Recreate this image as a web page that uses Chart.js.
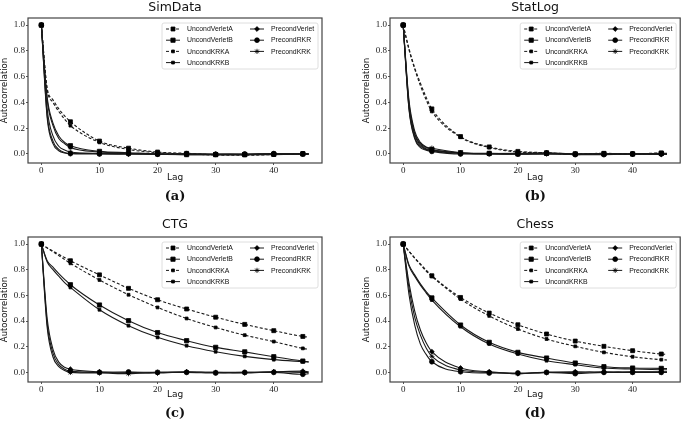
<!DOCTYPE html>
<html>
<head>
<meta charset="utf-8">
<script src="https://cdn.jsdelivr.net/npm/chart.js@4.4.0/dist/chart.umd.min.js"></script>
<style>
  body { margin: 0; background: #fff; }
  #fig { position: relative; width: 685px; height: 424px; overflow: hidden; }
  .panel { position: absolute; }
</style>
</head>
<body>
<div id="fig">
  <div class="panel" style="left:0;top:0"><canvas id="simChart" width="342" height="212"></canvas></div>
  <div class="panel" style="left:342px;top:0"><canvas id="statChart" width="343" height="212"></canvas></div>
  <div class="panel" style="left:0;top:212px"><canvas id="ctgChart" width="342" height="212"></canvas></div>
  <div class="panel" style="left:342px;top:212px"><canvas id="chessChart" width="343" height="212"></canvas></div>
</div>
<script>
const lags = [0, 1, 2, 3, 4, 5, 10, 15, 20, 25, 30, 35, 40, 45, 46];
const xTicks = [0, 10, 20, 30, 40];
const yTicks = [0.0, 0.2, 0.4, 0.6, 0.8, 1.0];
const seriesNames = ['UncondVerletA', 'UncondVerletB', 'UncondKRKA', 'UncondKRKB',
  'PrecondVerlet', 'PrecondRKR', 'PrecondKRK'];

// (a) SimData
const simUncondVerletA = [1.0, 0.51, 0.42, 0.35, 0.295, 0.25, 0.10, 0.045, 0.015, 0.005, -0.005, -0.005, 0.0, 0.003, 0.0];
const simUncondVerletB = [1.0, 0.44, 0.24, 0.14, 0.09, 0.064, 0.02, 0.01, 0.0, -0.005, -0.005, -0.005, -0.003, 0.0, 0.0];
const simUncondKRKA = [1.0, 0.50, 0.40, 0.33, 0.27, 0.22, 0.09, 0.035, 0.01, 0.0, -0.008, -0.01, -0.005, 0.0, 0.0];
const simUncondKRKB = [1.0, 0.42, 0.22, 0.12, 0.08, 0.05, 0.015, 0.005, -0.002, -0.005, -0.005, -0.005, -0.005, 0.0, 0.0];
const simPrecondVerlet = [1.0, 0.30, 0.10, 0.035, 0.012, 0.005, 0.005, 0.0, 0.0, 0.0, -0.003, -0.003, 0.0, 0.002, 0.0];
const simPrecondRKR = [1.0, 0.28, 0.08, 0.025, 0.008, 0.003, 0.0, 0.002, -0.002, 0.002, -0.002, 0.0, 0.003, 0.0, 0.0];
const simPrecondKRK = [1.0, 0.35, 0.14, 0.06, 0.03, 0.015, 0.003, 0.0, 0.0, 0.0, 0.0, -0.003, 0.0, 0.0, 0.0];

// (b) StatLog
const statUncondVerletA = [1.0, 0.82, 0.67, 0.55, 0.44, 0.35, 0.135, 0.055, 0.02, 0.01, 0.0, 0.005, 0.0, 0.008, 0.005];
const statUncondVerletB = [1.0, 0.40, 0.16, 0.08, 0.05, 0.035, 0.01, 0.005, 0.0, 0.005, 0.0, 0.0, 0.0, 0.005, 0.0];
const statUncondKRKA = [1.0, 0.81, 0.66, 0.53, 0.42, 0.33, 0.13, 0.05, 0.015, 0.008, -0.005, 0.0, 0.0, 0.0, 0.0];
const statUncondKRKB = [1.0, 0.38, 0.15, 0.07, 0.04, 0.03, 0.008, 0.003, 0.0, 0.0, 0.0, 0.0, 0.0, 0.0, 0.0];
const statPrecondVerlet = [1.0, 0.36, 0.13, 0.06, 0.035, 0.025, 0.005, 0.003, 0.005, 0.01, 0.0, 0.0, 0.0, -0.003, 0.0];
const statPrecondRKR = [1.0, 0.35, 0.12, 0.05, 0.03, 0.02, 0.0, 0.002, 0.0, 0.005, -0.005, -0.005, 0.0, 0.0, 0.0];
const statPrecondKRK = [1.0, 0.42, 0.18, 0.09, 0.055, 0.045, 0.01, 0.0, 0.0, 0.0, 0.0, 0.003, 0.0, 0.0, 0.0];

// (c) CTG
const ctgUncondVerletA = [1.0, 0.97, 0.945, 0.92, 0.895, 0.87, 0.76, 0.655, 0.566, 0.494, 0.43, 0.374, 0.325, 0.28, 0.275];
const ctgUncondVerletB = [1.0, 0.87, 0.82, 0.77, 0.725, 0.683, 0.525, 0.403, 0.31, 0.247, 0.195, 0.16, 0.122, 0.088, 0.083];
const ctgUncondKRKA = [1.0, 0.97, 0.94, 0.91, 0.88, 0.85, 0.72, 0.605, 0.506, 0.42, 0.35, 0.29, 0.24, 0.187, 0.18];
const ctgUncondKRKB = [1.0, 0.86, 0.80, 0.75, 0.70, 0.662, 0.488, 0.364, 0.273, 0.208, 0.161, 0.125, 0.099, 0.083, 0.08];
const ctgPrecondVerlet = [1.0, 0.42, 0.18, 0.08, 0.04, 0.025, 0.005, 0.0, -0.005, 0.005, 0.0, 0.0, 0.005, 0.01, 0.005];
const ctgPrecondRKR = [1.0, 0.38, 0.15, 0.06, 0.025, 0.01, 0.0, 0.003, 0.0, 0.0, -0.005, 0.0, 0.0, -0.015, -0.01];
const ctgPrecondKRK = [1.0, 0.35, 0.12, 0.045, 0.015, 0.0, -0.005, -0.01, 0.0, 0.003, 0.0, -0.005, 0.005, 0.0, 0.0];

// (d) Chess
const chessUncondVerletA = [1.0, 0.945, 0.893, 0.845, 0.798, 0.753, 0.584, 0.462, 0.371, 0.299, 0.244, 0.203, 0.169, 0.143, 0.14];
const chessUncondVerletB = [1.0, 0.84, 0.76, 0.69, 0.63, 0.58, 0.369, 0.234, 0.156, 0.112, 0.073, 0.044, 0.034, 0.031, 0.03];
const chessUncondKRKA = [1.0, 0.944, 0.89, 0.84, 0.79, 0.748, 0.571, 0.44, 0.338, 0.26, 0.203, 0.156, 0.122, 0.099, 0.097];
const chessUncondKRKB = [1.0, 0.83, 0.75, 0.68, 0.62, 0.564, 0.356, 0.221, 0.143, 0.091, 0.06, 0.034, 0.026, 0.021, 0.02];
const chessPrecondVerlet = [1.0, 0.70, 0.48, 0.33, 0.23, 0.161, 0.034, 0.005, -0.01, 0.0, 0.005, 0.0, 0.005, 0.005, 0.005];
const chessPrecondRKR = [1.0, 0.61, 0.37, 0.22, 0.14, 0.083, 0.005, -0.005, -0.005, 0.0, -0.01, 0.0, 0.0, 0.0, 0.0];
const chessPrecondKRK = [1.0, 0.66, 0.43, 0.29, 0.19, 0.125, 0.018, 0.0, -0.01, 0.0, 0.0, 0.005, 0.0, 0.0, 0.0];

// line / marker look per series (same order as seriesNames)
const seriesStyles = [
  { dash: [3, 2], point: 'rect', r: 2.8 },
  { dash: [], point: 'rect', r: 3.0 },
  { dash: [3, 2], point: 'rect', r: 2.0 },
  { dash: [], point: 'rect', r: 2.0 },
  { dash: [], point: 'rectRot', r: 2.4 },
  { dash: [], point: 'circle', r: 2.4 },
  { dash: [], point: 'star', r: 2.6 }
];

const SANS = 'DejaVu Sans, sans-serif';
const SERIF = 'Liberation Serif, serif';

function buildDatasets(values) {
  return seriesNames.map((name, i) => ({
    label: name,
    data: lags.map((x, j) => ({ x: x, y: values[i][j] })),
    borderColor: '#1a1a1a',
    backgroundColor: '#000',
    borderWidth: 1.1,
    borderDash: seriesStyles[i].dash,
    pointStyle: seriesStyles[i].point,
    pointRadius: c => (c.raw && c.raw.x % 5 === 0 ? seriesStyles[i].r : 0),
    pointBorderWidth: 0.8,
    pointBackgroundColor: '#000',
    pointBorderColor: '#000',
    cubicInterpolationMode: 'monotone'
  }));
}

// box round the plot area
const frameBox = {
  id: 'frameBox',
  afterDraw(chart) {
    const { ctx, chartArea: a } = chart;
    ctx.save();
    ctx.strokeStyle = '#444';
    ctx.lineWidth = 1.2;
    ctx.strokeRect(a.left, a.top, a.right - a.left, a.bottom - a.top);
    ctx.restore();
  }
};

// two-column legend drawn inside the plot, top right
const insideLegend = {
  id: 'insideLegend',
  afterDraw(chart) {
    const { ctx, chartArea: a } = chart;
    const w = 156, h = 46;
    const x0 = a.right - 4 - w, y0 = a.top + 5;
    ctx.save();
    ctx.fillStyle = 'rgba(255,255,255,0.85)';
    ctx.strokeStyle = '#d6d6d6';
    ctx.lineWidth = 0.8;
    ctx.beginPath();
    ctx.roundRect(x0, y0, w, h, 2);
    ctx.fill();
    ctx.stroke();
    chart.data.datasets.forEach((ds, i) => {
      const col = i < 4 ? 0 : 1;
      const row = i < 4 ? i : i - 4;
      const sx = x0 + (col ? 88 : 4);
      const ty = y0 + 6 + row * 11.2;
      ctx.strokeStyle = '#1a1a1a';
      ctx.lineWidth = 1;
      ctx.setLineDash(seriesStyles[i].dash);
      ctx.beginPath();
      ctx.moveTo(sx, ty);
      ctx.lineTo(sx + 14, ty);
      ctx.stroke();
      ctx.setLineDash([]);
      ctx.fillStyle = '#000';
      ctx.strokeStyle = '#000';
      ctx.lineWidth = 0.8;
      Chart.helpers.drawPoint(ctx, {
        pointStyle: seriesStyles[i].point,
        radius: seriesStyles[i].r,
        rotation: 0,
        borderWidth: 0.8
      }, sx + 7, ty);
      // narrow-ish sans: a slightly condensed 8px face
      ctx.save();
      ctx.translate(sx + 21, ty);
      ctx.scale(0.86, 1);
      ctx.fillStyle = '#111';
      ctx.font = '8px Liberation Sans, Arial, sans-serif';
      ctx.textBaseline = 'middle';
      ctx.textAlign = 'left';
      ctx.fillText(ds.label, 0, 0);
      ctx.restore();
    });
    ctx.restore();
  }
};

function makePanel(id, title, caption, values, lay) {
  const canvas = document.getElementById(id);
  return new Chart(canvas, {
    type: 'line',
    data: { datasets: buildDatasets(values) },
    plugins: [frameBox, insideLegend],
    options: {
      responsive: false,
      animation: false,
      events: [],
      layout: { padding: { left: lay.padLeft, right: lay.padRight, top: 0, bottom: 0 } },
      plugins: {
        legend: { display: false },
        tooltip: { enabled: false },
        title: {
          display: true,
          fullSize: false,
          text: title,
          color: '#111',
          font: { family: SANS, size: 12.5, weight: 'normal', lineHeight: 1.2 },
          padding: { top: lay.titleTop, bottom: lay.titleBottom }
        },
        subtitle: {
          display: true,
          fullSize: false,
          position: 'bottom',
          text: caption,
          color: '#111',
          font: { family: 'DejaVu Serif, serif', size: 13, weight: 'bold', lineHeight: 1 },
          padding: { top: 0, bottom: lay.capBottom }
        }
      },
      scales: {
        x: {
          type: 'linear',
          min: -2.3,
          max: 48.3,
          afterBuildTicks: s => { s.ticks = xTicks.map(v => ({ value: v })); },
          afterFit: s => { s.height = lay.xAxisH; },
          grid: { drawOnChartArea: false, drawTicks: true, tickLength: 2, color: '#555' },
          border: { display: false },
          ticks: {
            color: '#222',
            font: { family: SERIF, size: 9, lineHeight: 1 },
            padding: 1,
            maxRotation: 0,
            autoSkip: false,
            callback: v => String(v)
          },
          title: {
            display: true,
            text: 'Lag',
            color: '#111',
            font: { family: SANS, size: 9, lineHeight: 1.2 },
            padding: { top: 0, bottom: lay.lagBottom }
          }
        },
        y: {
          type: 'linear',
          min: lay.yMin,
          max: 1.055,
          afterBuildTicks: s => { s.ticks = yTicks.map(v => ({ value: v })); },
          afterFit: s => { s.width = 28; },
          grid: { drawOnChartArea: false, drawTicks: true, tickLength: 2, color: '#555' },
          border: { display: false },
          ticks: {
            color: '#222',
            font: { family: SERIF, size: 9, lineHeight: 1 },
            padding: 1,
            callback: v => v.toFixed(1)
          },
          title: {
            display: true,
            text: 'Autocorrelation',
            color: '#111',
            font: { family: SANS, size: 8.5, lineHeight: 1 },
            padding: { top: 0.75, bottom: 0 }
          }
        }
      }
    }
  });
}

const topLeft = { padLeft: 0, padRight: 20, titleTop: 0, titleBottom: 3, capBottom: 8.5, xAxisH: 27.5, lagBottom: 7.6, yMin: -0.07 };
const topRight = { padLeft: 20, padRight: 1, titleTop: 0, titleBottom: 3, capBottom: 8.5, xAxisH: 27.5, lagBottom: 7.6, yMin: -0.07 };
const botLeft = { padLeft: 0, padRight: 20, titleTop: 5.5, titleBottom: 4.5, capBottom: 3.5, xAxisH: 25.5, lagBottom: 7.1, yMin: -0.075 };
const botRight = { padLeft: 20, padRight: 1, titleTop: 5.5, titleBottom: 4.5, capBottom: 3.5, xAxisH: 25.5, lagBottom: 7.1, yMin: -0.075 };

makePanel('simChart', 'SimData', '(a)',
  [simUncondVerletA, simUncondVerletB, simUncondKRKA, simUncondKRKB, simPrecondVerlet, simPrecondRKR, simPrecondKRK], topLeft);
makePanel('statChart', 'StatLog', '(b)',
  [statUncondVerletA, statUncondVerletB, statUncondKRKA, statUncondKRKB, statPrecondVerlet, statPrecondRKR, statPrecondKRK], topRight);
makePanel('ctgChart', 'CTG', '(c)',
  [ctgUncondVerletA, ctgUncondVerletB, ctgUncondKRKA, ctgUncondKRKB, ctgPrecondVerlet, ctgPrecondRKR, ctgPrecondKRK], botLeft);
makePanel('chessChart', 'Chess', '(d)',
  [chessUncondVerletA, chessUncondVerletB, chessUncondKRKA, chessUncondKRKB, chessPrecondVerlet, chessPrecondRKR, chessPrecondKRK], botRight);
</script>
</body>
</html>
